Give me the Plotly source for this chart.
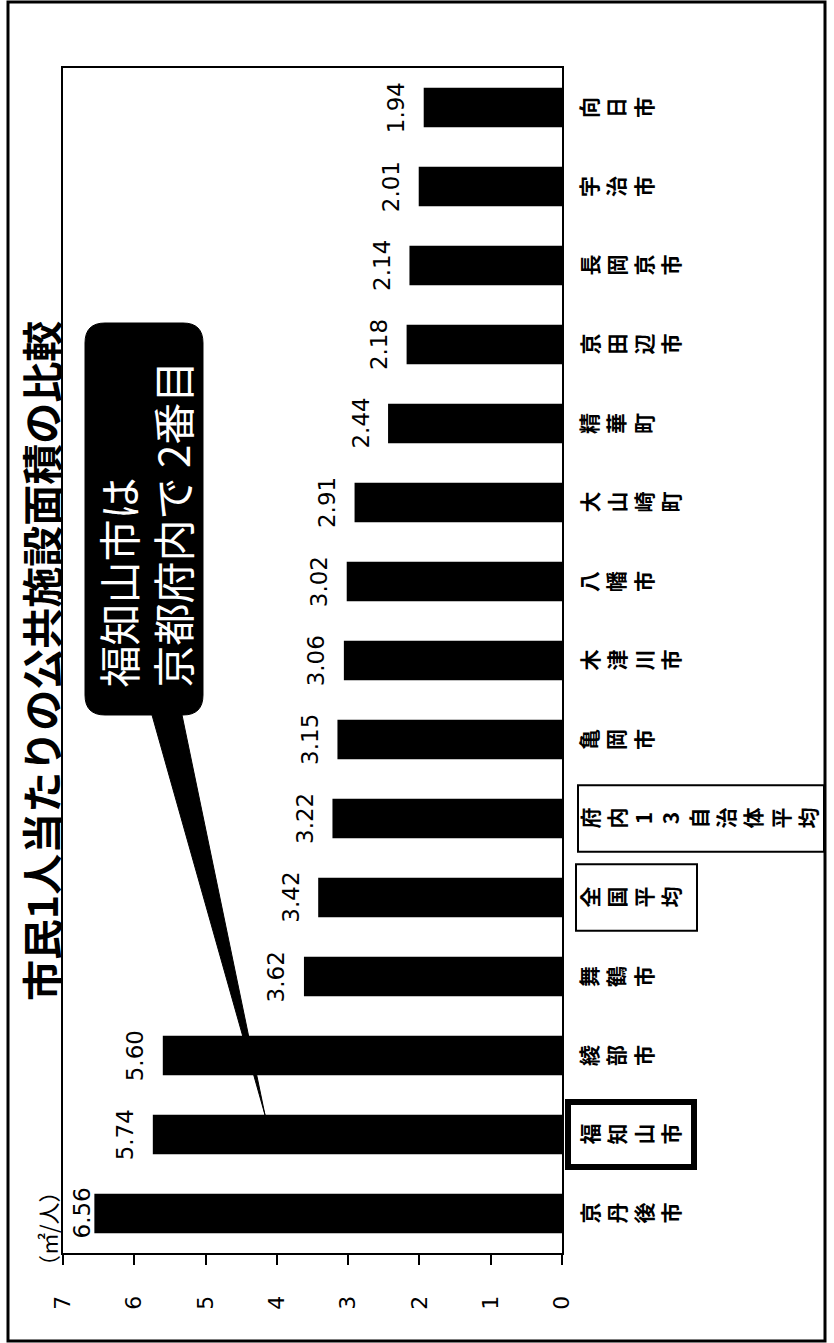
import plotly.graph_objects as go

# --- data -------------------------------------------------------------
categories = ["京丹後市", "福知山市", "綾部市", "舞鶴市", "全国平均", "府内13自治体平均",
              "亀岡市", "木津川市", "八幡市", "大山崎町", "精華町", "京田辺市",
              "長岡京市", "宇治市", "向日市"]
values = [6.56, 5.74, 5.60, 3.62, 3.42, 3.22, 3.15, 3.06, 3.02, 2.91,
          2.44, 2.18, 2.14, 2.01, 1.94]
value_ticks = [0, 1, 2, 3, 4, 5, 6, 7]
title_text = "市民1人当たりの公共施設面積の比較"
unit_text = "（㎡/人）"
callout_lines = ["福知山市は", "京都府内で 2番目"]

# --- layout geometry (pixels) ------------------------------------------
W, H = 834, 1343
ML, MR, MT, MB = 63, 272, 68, 90
PW, PH = W - ML - MR, H - MT - MB
VMAX = 7
PPU = PW / VMAX  # pixels per value unit


def px(x):
    return (x - ML) / PW


def py(y):
    return (H - MB - y) / PH


def path(points_cmds):
    out = []
    for cmd, pts in points_cmds:
        coords = " ".join(f"{px(x):.5f},{py(y):.5f}" for x, y in pts)
        out.append(f"{cmd}{coords}")
    return " ".join(out) + " Z"


CJK = "Noto Sans CJK JP"
NUM = "DejaVu Sans"

fig = go.Figure()
fig.add_trace(go.Bar(
    x=values, y=categories, orientation="h",
    marker=dict(color="black", line=dict(width=0)),
    hoverinfo="skip",
))

annotations = []

# value labels beyond the bar ends
for cat, v in zip(categories, values):
    room = (VMAX - v) * PPU
    gap = min(18, room - 28)
    annotations.append(dict(
        x=v, y=cat, xref="x", yref="y", text=f"{v:.2f}", showarrow=False,
        textangle=-90, xanchor="right", yanchor="middle", xshift=-gap + 5,
        font=dict(family=NUM, size=23, color="black"),
    ))

# category labels, one character per line
LABEL_X = 571
for cat in categories:
    annotations.append(dict(
        x=px(LABEL_X), y=cat, xref="paper", yref="y",
        text="<br>".join(list(cat)), showarrow=False, textangle=-90,
        xanchor="left", yanchor="middle", align="center",
        font=dict(family=CJK, size=21, color="black", weight=700),
    ))

# title
annotations.append(dict(
    x=px(40), y=py(661), xref="paper", yref="paper", text=title_text,
    showarrow=False, textangle=-90, xanchor="center", yanchor="middle",
    font=dict(family=CJK, size=41, color="black", weight=700),
))

# unit
annotations.append(dict(
    x=px(47), y=py(1229), xref="paper", yref="paper", text=unit_text,
    showarrow=False, textangle=-90, xanchor="center", yanchor="middle",
    font=dict(family=CJK, size=22, color="black"),
))

# callout text
annotations.append(dict(
    x=px(144), y=py(690), xref="paper", yref="paper",
    text="<br>".join(callout_lines), showarrow=False, textangle=-90,
    xanchor="center", yanchor="bottom", align="left",
    font=dict(family=CJK, size=42, color="white"),
))

shapes = []

# outer frame
shapes.append(dict(type="rect", xref="paper", yref="paper",
                   x0=px(8), x1=px(825), y0=py(2), y1=py(1341),
                   line=dict(color="black", width=3), layer="below"))

# callout bubble with pointer
r = 20
bx0, bx1, by0, by1 = 85, 203, 323, 715
bubble = [
    ("M", [(bx0 + r, by0)]),
    ("L", [(bx1 - r, by0)]),
    ("Q", [(bx1, by0), (bx1, by0 + r)]),
    ("L", [(bx1, by1 - r)]),
    ("Q", [(bx1, by1), (bx1 - r, by1)]),
    ("L", [(182, by1)]),
    ("L", [(265, 1115)]),
    ("L", [(152, by1)]),
    ("L", [(bx0 + r, by1)]),
    ("Q", [(bx0, by1), (bx0, by1 - r)]),
    ("L", [(bx0, by0 + r)]),
    ("Q", [(bx0, by0), (bx0 + r, by0)]),
]
shapes.append(dict(type="path", xref="paper", yref="paper", path=path(bubble),
                   fillcolor="black", line=dict(color="black", width=1),
                   layer="above"))

# boxes around highlighted labels: (category, left px, right px, half height, width)
label_boxes = [
    ("福知山市", 568, 694, 0.41, 6),
    ("全国平均", 576, 697, 0.42, 2),
    ("府内13自治体平均", 578, 824, 0.42, 2),
]
for cat, x0, x1, hh, lw in label_boxes:
    i = categories.index(cat)
    shapes.append(dict(type="rect", xref="paper", yref="y",
                       x0=px(x0), x1=px(x1), y0=i - hh, y1=i + hh,
                       line=dict(color="black", width=lw), layer="above"))

fig.update_layout(
    width=W, height=H,
    margin=dict(l=ML, r=MR, t=MT, b=MB, autoexpand=False),
    paper_bgcolor="white", plot_bgcolor="white",
    showlegend=False, bargap=0.5,
    annotations=annotations, shapes=shapes,
    xaxis=dict(
        range=[VMAX, 0], tickvals=value_ticks, ticktext=[str(t) for t in value_ticks],
        tickangle=-90, ticks="outside", ticklen=10, tickwidth=2, tickcolor="black",
        showline=True, mirror=True, linecolor="black", linewidth=2,
        showgrid=False, zeroline=False, ticklabelstandoff=22,
        tickfont=dict(family=NUM, size=22, color="black"),
    ),
    yaxis=dict(
        categoryorder="array", categoryarray=categories,
        showticklabels=False, ticks="",
        showline=True, mirror=True, linecolor="black", linewidth=2,
        showgrid=False, zeroline=False,
    ),
)

fig.write_html("out.html")
